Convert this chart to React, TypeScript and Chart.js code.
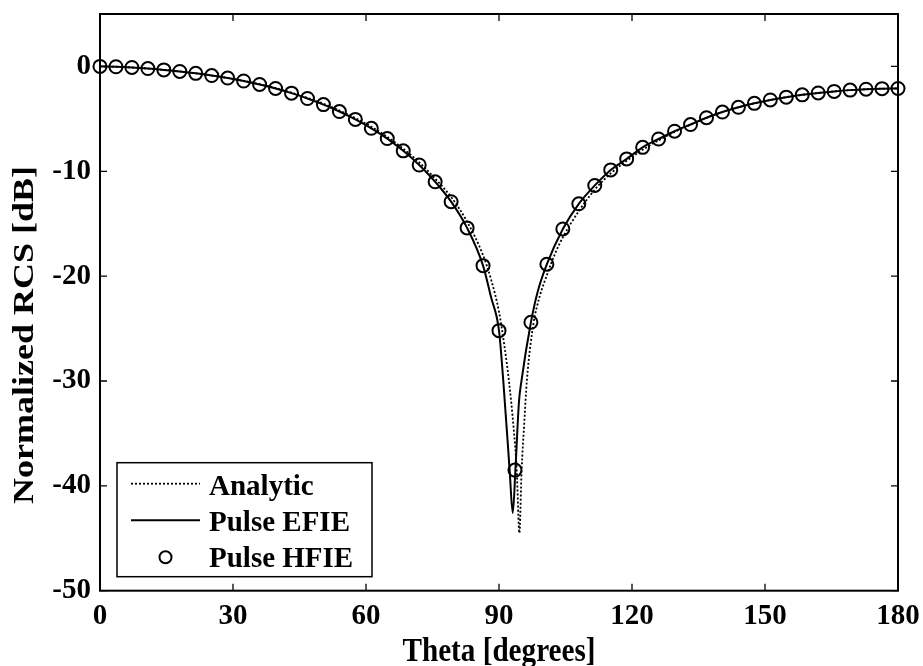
import React, { useEffect, useRef } from "react";
import { Chart, registerables } from "chart.js";

Chart.register(...registerables);

// ---- data ----
const X_TICKS = [0, 30, 60, 90, 120, 150, 180];
const X_TICK_LABELS = ["0", "30", "60", "90", "120", "150", "180"];
const Y_TICKS = [-50, -40, -30, -20, -10, 0];
const Y_TICK_LABELS = ["-50", "-40", "-30", "-20", "-10", "0"];
const X_MIN = 0;
const X_MAX = 180;
const Y_MIN = -50;
const Y_MAX = 5;

const X_TITLE = "Theta [degrees]";
const Y_TITLE = "Normalized RCS [dB]";
const SERIES_NAMES = ["Analytic", "Pulse EFIE", "Pulse HFIE"];

const ANALYTIC_THETA = [
  0, 3.6, 7.2, 10.8, 14.4, 18, 21.6, 25.2, 28.8, 32.4, 36, 39.6, 43.2, 46.8,
  50.4, 54, 57.6, 61.2, 64.8, 68.4, 72, 75.6, 79.2, 82.8, 86.4, 88.2, 90,
  91.2, 92.3, 93.3, 94.0, 94.6, 95.1, 95.7, 96.3, 97.75, 99.2, 100.8, 102.6,
  104.4, 108, 111.6, 115.2, 118.8, 122.4, 126, 129.6, 133.2, 136.8, 140.4,
  144, 147.6, 151.2, 154.8, 158.4, 162, 165.6, 169.2, 172.8, 176.4, 180,
];
const ANALYTIC_RCS = [
  0, -0.03, -0.1, -0.2, -0.33, -0.48, -0.66, -0.87, -1.1, -1.37, -1.69,
  -2.06, -2.5, -3.0, -3.56, -4.2, -4.93, -5.76, -6.72, -7.85, -9.15, -10.7,
  -12.45, -14.8, -18.0, -20.3, -23.4, -26.6, -30.2, -34.5, -38.5, -44.5,
  -38.5, -34.0, -29.9, -24.6, -21.9, -19.9, -17.9, -16.3, -13.8, -11.75,
  -10.2, -9.0, -7.95, -7.05, -6.25, -5.56, -4.9, -4.35, -3.9, -3.52, -3.2,
  -2.93, -2.71, -2.53, -2.38, -2.26, -2.17, -2.12, -2.1,
];

const EFIE_THETA = [
  0, 3.6, 7.2, 10.8, 14.4, 18, 21.6, 25.2, 28.8, 32.4, 36, 39.6, 43.2, 46.8,
  50.4, 54, 57.6, 61.2, 64.8, 68.4, 72, 75.6, 79.2, 82.8, 86.4, 88.2, 90,
  90.95, 92.4, 93.1, 93.7, 94.5, 95.1, 97.2, 98.65, 100.8, 104.4, 108,
  111.6, 115.2, 118.8, 122.4, 126, 129.6, 133.2, 136.8, 140.4, 144, 147.6,
  151.2, 154.8, 158.4, 162, 165.6, 169.2, 172.8, 176.4, 180,
];
const EFIE_RCS = [
  0, -0.03, -0.1, -0.2, -0.33, -0.48, -0.66, -0.87, -1.11, -1.39, -1.72,
  -2.1, -2.55, -3.06, -3.64, -4.3, -5.05, -5.9, -6.88, -8.05, -9.4, -11.0,
  -12.9, -15.4, -19.0, -22.0, -25.2, -29.9, -38.5, -42.6, -38.5, -32.0,
  -29.9, -24.4, -21.6, -18.86, -15.5, -13.1, -11.35, -9.87, -8.82, -7.72,
  -6.92, -6.18, -5.54, -4.89, -4.35, -3.9, -3.52, -3.2, -2.93, -2.71, -2.53,
  -2.38, -2.26, -2.17, -2.12, -2.1,
];

const HFIE_THETA = [
  0, 3.6, 7.2, 10.8, 14.4, 18, 21.6, 25.2, 28.8, 32.4, 36, 39.6, 43.2, 46.8,
  50.4, 54, 57.6, 61.2, 64.8, 68.4, 72, 75.6, 79.2, 82.8, 86.4, 90, 93.6,
  97.2, 100.8, 104.4, 108, 111.6, 115.2, 118.8, 122.4, 126, 129.6, 133.2,
  136.8, 140.4, 144, 147.6, 151.2, 154.8, 158.4, 162, 165.6, 169.2, 172.8,
  176.4, 180,
];
const HFIE_RCS = [
  0, -0.03, -0.1, -0.2, -0.33, -0.48, -0.66, -0.87, -1.11, -1.39, -1.72,
  -2.1, -2.55, -3.06, -3.64, -4.3, -5.05, -5.9, -6.88, -8.05, -9.4, -11.0,
  -12.9, -15.4, -19.0, -25.2, -38.5, -24.4, -18.86, -15.5, -13.1, -11.35,
  -9.87, -8.82, -7.72, -6.92, -6.18, -5.54, -4.89, -4.35, -3.9, -3.52, -3.2,
  -2.93, -2.71, -2.53, -2.38, -2.26, -2.17, -2.12, -2.1,
];

// ---- styles ----
const FONT = '"Liberation Serif", "Times New Roman", Times, serif';
const INK = "#000000";

const toPoints = (xs: number[], ys: number[]) =>
  xs.map((x, i) => ({ x, y: ys[i] }));

const decorPlugin = {
  id: "matlabDecor",
  afterDraw(chart: any) {
    const { ctx, chartArea: a, scales } = chart;
    const xs = scales.x;
    const ys = scales.y;
    ctx.save();

    // inward tick marks on all four sides
    const TL = 7;
    ctx.strokeStyle = INK;
    ctx.lineWidth = 1.3;
    ctx.beginPath();
    for (const v of X_TICKS) {
      const px = xs.getPixelForValue(v);
      ctx.moveTo(px, a.bottom);
      ctx.lineTo(px, a.bottom - TL);
      ctx.moveTo(px, a.top);
      ctx.lineTo(px, a.top + TL);
    }
    for (const v of Y_TICKS) {
      const py = ys.getPixelForValue(v);
      ctx.moveTo(a.left, py);
      ctx.lineTo(a.left + TL, py);
      ctx.moveTo(a.right, py);
      ctx.lineTo(a.right - TL, py);
    }
    ctx.stroke();

    // axes box
    ctx.lineWidth = 2;
    ctx.strokeRect(a.left, a.top, a.right - a.left, a.bottom - a.top);

    // x title
    ctx.fillStyle = INK;
    ctx.font = `bold 33px ${FONT}`;
    ctx.textAlign = "center";
    ctx.textBaseline = "alphabetic";
    const wx = ctx.measureText(X_TITLE).width;
    ctx.save();
    ctx.translate((a.left + a.right) / 2, a.bottom + 70);
    ctx.scale(193 / wx, 1);
    ctx.fillText(X_TITLE, 0, 0);
    ctx.restore();

    // y title
    ctx.font = `bold 30px ${FONT}`;
    const wy = ctx.measureText(Y_TITLE).width;
    ctx.save();
    ctx.translate(33, a.top + 321);
    ctx.rotate(-Math.PI / 2);
    ctx.scale(338 / wy, 1);
    ctx.fillText(Y_TITLE, 0, 0);
    ctx.restore();

    // legend box
    const lx = a.left + 17;
    const ly = a.bottom - 128;
    const lw = 255;
    const lh = 114;
    ctx.fillStyle = "#ffffff";
    ctx.fillRect(lx, ly, lw, lh);
    ctx.strokeStyle = INK;
    ctx.lineWidth = 1.5;
    ctx.strokeRect(lx, ly, lw, lh);

    // legend samples
    ctx.lineWidth = 1.8;
    ctx.setLineDash([2, 2]);
    ctx.beginPath();
    ctx.moveTo(lx + 14, ly + 21);
    ctx.lineTo(lx + 83, ly + 21);
    ctx.stroke();
    ctx.setLineDash([]);
    ctx.lineWidth = 2;
    ctx.beginPath();
    ctx.moveTo(lx + 14, ly + 57.5);
    ctx.lineTo(lx + 83, ly + 57.5);
    ctx.stroke();
    ctx.beginPath();
    ctx.arc(lx + 48.5, ly + 94.5, 6, 0, Math.PI * 2);
    ctx.stroke();

    ctx.fillStyle = INK;
    ctx.font = `bold 29px ${FONT}`;
    ctx.textAlign = "left";
    ctx.textBaseline = "alphabetic";
    ctx.fillText(SERIES_NAMES[0], lx + 92, ly + 32);
    ctx.fillText(SERIES_NAMES[1], lx + 92, ly + 68);
    ctx.fillText(SERIES_NAMES[2], lx + 92, ly + 104.5);

    ctx.restore();
  },
};

export default function App() {
  const ref = useRef<HTMLCanvasElement | null>(null);

  useEffect(() => {
    if (!ref.current) return;
    const chart = new Chart(ref.current, {
      type: "scatter",
      data: {
        datasets: [
          {
            label: SERIES_NAMES[0],
            data: toPoints(ANALYTIC_THETA, ANALYTIC_RCS),
            showLine: true,
            borderColor: INK,
            backgroundColor: INK,
            borderWidth: 1.8,
            borderDash: [2, 2],
            pointRadius: 0,
            cubicInterpolationMode: "monotone",
            fill: false,
          },
          {
            label: SERIES_NAMES[1],
            data: toPoints(EFIE_THETA, EFIE_RCS),
            showLine: true,
            borderColor: INK,
            backgroundColor: INK,
            borderWidth: 2,
            pointRadius: 0,
            cubicInterpolationMode: "monotone",
            fill: false,
          },
          {
            label: SERIES_NAMES[2],
            data: toPoints(HFIE_THETA, HFIE_RCS),
            showLine: false,
            borderColor: INK,
            backgroundColor: "rgba(0,0,0,0)",
            pointRadius: 6.5,
            pointBorderWidth: 2,
            pointBorderColor: INK,
            pointBackgroundColor: "rgba(0,0,0,0)",
            clip: false,
          },
        ] as any,
      },
      options: {
        animation: false,
        responsive: false,
        devicePixelRatio: 1,
        layout: { padding: { top: 14, right: 25, left: 0, bottom: 0 } },
        plugins: {
          legend: { display: false },
          tooltip: { enabled: false },
        },
        scales: {
          x: {
            type: "linear",
            min: X_MIN,
            max: X_MAX,
            afterBuildTicks: (s: any) => {
              s.ticks = X_TICKS.map((v) => ({ value: v }));
            },
            afterFit: (s: any) => {
              s.height = 75.3;
              s.paddingLeft = 0;
              s.paddingRight = 0;
            },
            grid: { display: false, drawTicks: false },
            border: { display: false },
            ticks: {
              color: INK,
              padding: 8,
              maxRotation: 0,
              autoSkip: false,
              font: { family: FONT, size: 29, weight: "bold" },
              callback: (_v: any, i: number) => X_TICK_LABELS[i],
            },
          },
          y: {
            type: "linear",
            min: Y_MIN,
            max: Y_MAX,
            afterBuildTicks: (s: any) => {
              s.ticks = Y_TICKS.map((v) => ({ value: v }));
            },
            afterFit: (s: any) => {
              s.width = 100;
              s.paddingTop = 0;
              s.paddingBottom = 0;
            },
            grid: { display: false, drawTicks: false },
            border: { display: false },
            ticks: {
              color: INK,
              padding: 9,
              autoSkip: false,
              font: { family: FONT, size: 29, weight: "bold" },
              callback: (_v: any, i: number) => Y_TICK_LABELS[i],
            },
          },
        },
      } as any,
      plugins: [decorPlugin],
    });
    return () => chart.destroy();
  }, []);

  return (
    <div
      style={{
        position: "absolute",
        left: 0,
        top: 0,
        width: 923,
        height: 666,
        background: "#ffffff",
      }}
    >
      <canvas
        ref={ref}
        width={923}
        height={666}
        style={{ display: "block", width: 923, height: 666 }}
      />
    </div>
  );
}
